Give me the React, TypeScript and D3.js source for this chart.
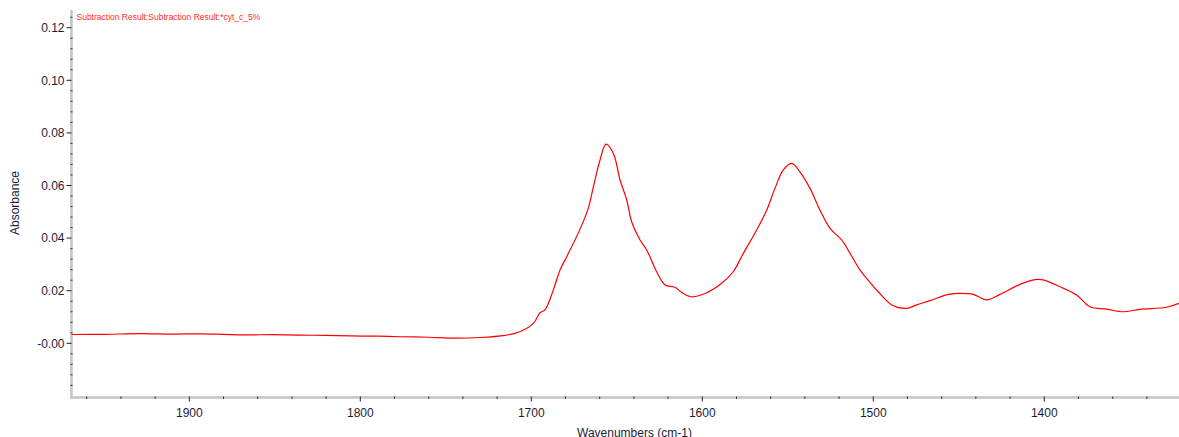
import React from "react";
import * as d3 from "d3";

const wavenumbers = [
  1969.2, 1950, 1928.8, 1910, 1893.7, 1880, 1867.4, 1850, 1835.3, 1820, 1806, 1790, 1776.8, 1760, 1747.5, 1730, 1715.4, 1706.7,
  1698.8, 1694.9, 1692, 1687.1, 1683.2, 1679.3, 1671.3, 1666.7, 1663.7, 1659.8, 1656.3, 1652, 1648.1, 1644.2, 1641.3, 1636.4,
  1632.5, 1626.7, 1621.8, 1616, 1612.1, 1606.2, 1597.4, 1588.7, 1581.9, 1576, 1568.2, 1562.3, 1557.5, 1552.6, 1547.7, 1542.9,
  1537, 1531.2, 1525.3, 1518.5, 1513.6, 1507.8, 1503.9, 1497.1, 1489.2, 1480.5, 1474.6, 1466.8, 1456.1, 1449.3, 1441.5, 1433.7,
  1425.9, 1414.2, 1404.4, 1400.6, 1390.8, 1381.1, 1373.3, 1363.5, 1353.8, 1344.1, 1328.5, 1321.2,
];
const absorbance = [
  0.00335, 0.0034, 0.0037, 0.0035, 0.0036, 0.0034, 0.0032, 0.0033, 0.0031, 0.003, 0.0028, 0.0027, 0.0025, 0.0023, 0.002, 0.0022, 0.003, 0.0044,
  0.0076, 0.0116, 0.0127, 0.0203, 0.0279, 0.0329, 0.0437, 0.0513, 0.0595, 0.0697, 0.0757, 0.0722, 0.0621, 0.0545, 0.0462, 0.0393,
  0.0355, 0.0272, 0.0222, 0.0213, 0.0194, 0.0177, 0.0192, 0.0228, 0.0272, 0.0342, 0.0431, 0.0507, 0.0589, 0.0659, 0.0684, 0.0652,
  0.0589, 0.0507, 0.0437, 0.0393, 0.0342, 0.0279, 0.0247, 0.0196, 0.0146, 0.0133, 0.0146, 0.0162, 0.0186, 0.019, 0.0186, 0.0165,
  0.0186, 0.0224, 0.0243, 0.0241, 0.0215, 0.0184, 0.0139, 0.013, 0.012, 0.0129, 0.0137, 0.0152,
];
const xMajorTicks = [1900, 1800, 1700, 1600, 1500, 1400];
const yMajorTicks = [0.12, 0.1, 0.08, 0.06, 0.04, 0.02, 0];
const yTickLabels = ["0.12", "0.10", "0.08", "0.06", "0.04", "0.02", "-0.00"];
const titleText = "Subtraction Result:Subtraction Result:*cyt_c_5%";

const W = 1179;
const H = 437;
const left = 71.5;
const right = 1179;
const top = 10;
const bottom = 397.5;

export default function App() {
  const x = d3.scaleLinear().domain([1969.2, 1321.2]).range([71, 1179]);
  const y = d3.scaleLinear().domain([0, 0.12]).range([343.3, 27.7]);

  const xMinor = d3.range(1960, 1320, -20).filter((v) => v % 100 !== 0);
  const yMinor = d3.range(-0.02, 0.1281, 0.004).map((v) => Math.round(v * 1000) / 1000)
    .filter((v) => Math.abs(Math.round(v * 50) - v * 50) > 1e-6);

  const pts = wavenumbers.map((w, i) => [w, absorbance[i]] as [number, number]);
  const line = d3
    .line<[number, number]>()
    .x((d) => x(d[0]))
    .y((d) => y(d[1]))
    .curve(d3.curveCatmullRom.alpha(0.5));
  const path = line(pts) || "";

  const font = "'Liberation Sans', Arial, sans-serif";
  const tickColor = "#1c1c38";

  return (
    <svg width={W} height={H} style={{ position: "absolute", left: 0, top: 0, background: "#fff" }}>
      <defs>
        <clipPath id="plot">
          <rect x={left} y={top} width={right - left} height={bottom - top} />
        </clipPath>
      </defs>
      <rect x={0} y={0} width={W} height={H} fill="#fff" />
      {/* axis lines */}
      <line x1={left} x2={left} y1={top} y2={bottom + 1} stroke="#c4c4c4" strokeWidth={2.5} />
      <line x1={left - 1} x2={right} y1={bottom} y2={bottom} stroke="#c4c4c4" strokeWidth={2.6} />
      {/* y ticks */}
      {yMajorTicks.map((v, i) => (
        <g key={"ym" + i}>
          <line x1={left - 5} x2={left} y1={y(v)} y2={y(v)} stroke="#222" strokeWidth={1} />
          <text x={left - 7} y={y(v) + 4.2} textAnchor="end" fontFamily={font} fontSize={12} fill={tickColor}>
            {yTickLabels[i]}
          </text>
        </g>
      ))}
      {yMinor.filter((v) => y(v) > top + 2 && y(v) < bottom - 3).map((v, i) => (
        <line key={"yn" + i} x1={left - 1} x2={left + 1} y1={y(v)} y2={y(v)} stroke="#333" strokeWidth={1} />
      ))}
      {/* x ticks */}
      {xMajorTicks.map((v) => (
        <g key={"xm" + v}>
          <line x1={x(v)} x2={x(v)} y1={bottom - 1} y2={bottom + 4} stroke="#222" strokeWidth={1} />
          <text x={x(v)} y={417} textAnchor="middle" fontFamily={font} fontSize={12} fill={tickColor}>
            {v}
          </text>
        </g>
      ))}
      {xMinor.map((v) => (
        <line key={"xn" + v} x1={x(v)} x2={x(v)} y1={bottom - 1} y2={bottom + 1.5} stroke="#333" strokeWidth={1} />
      ))}
      {/* axis titles */}
      <text x={634.5} y={437} textAnchor="middle" fontFamily={font} fontSize={12} fill={tickColor}>
        Wavenumbers (cm-1)
      </text>
      <text transform="translate(19,203) rotate(-90)" textAnchor="middle" fontFamily={font} fontSize={12} fill={tickColor}>
        Absorbance
      </text>
      {/* title */}
      <text x={76.5} y={20} fontFamily={font} fontSize={8.5} fill="#ff2a2a">
        {titleText}
      </text>
      {/* curve */}
      <path d={path} fill="none" stroke="#ff0000" strokeWidth={1.2} clipPath="url(#plot)" />
    </svg>
  );
}
